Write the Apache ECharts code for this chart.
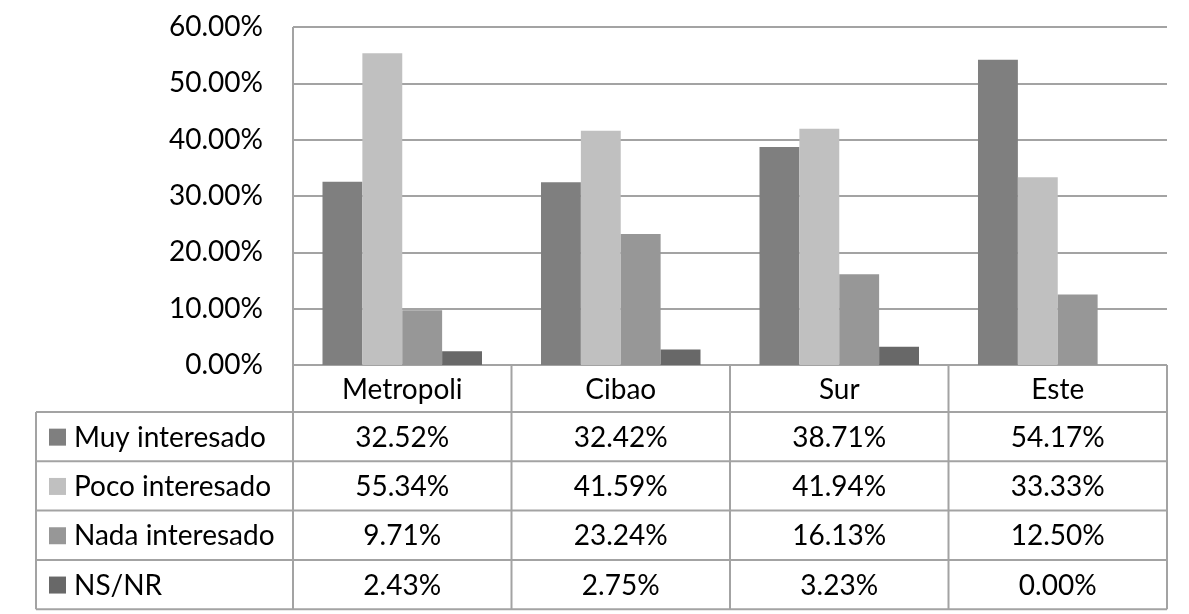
<!DOCTYPE html>
<html><head><meta charset="utf-8">
<script src="https://cdn.jsdelivr.net/npm/echarts@6/dist/echarts.min.js"></script>
<style>html,body{margin:0;padding:0;background:#fff}#c{width:1189px;height:614px}</style>
</head><body><div id="c"></div>
<script>
const categories = ['Metropoli', 'Cibao', 'Sur', 'Este'];
const seriesNames = ['Muy interesado', 'Poco interesado', 'Nada interesado', 'NS/NR'];
const muy = [32.52, 32.42, 38.71, 54.17];
const poco = [55.34, 41.59, 41.94, 33.33];
const nada = [9.71, 23.24, 16.13, 12.50];
const nsnr = [2.43, 2.75, 3.23, 0.00];
const yTicks = [0, 10, 20, 30, 40, 50, 60];

const seriesData = [muy, poco, nada, nsnr];
const colors = ['#7f7f7f', '#c0c0c0', '#979797', '#686868'];
const FONT = 'Lato';
const FS = 28;
const gridL = 293, gridR = 1167, gridT = 27, gridB = 365;
const lineC = '#a3a3a3';
const headerH = 47, rowH = 49.3, tableL = 36;

const chart = echarts.init(document.getElementById('c'), null, {renderer: 'canvas'});

function buildGraphics() {
  const g = [];
  const colW = (gridR - gridL) / categories.length;
  const tableBottom = gridB + headerH + rowH * seriesNames.length;
  for (let i = 0; i <= categories.length; i++) {
    const x = gridL + colW * i;
    g.push({type: 'line', shape: {x1: x, y1: i === 0 ? gridT : gridB, x2: x, y2: tableBottom}, style: {stroke: lineC, lineWidth: 2}, z: 10});
  }
  g.push({type: 'line', shape: {x1: tableL, y1: gridB + headerH, x2: tableL, y2: tableBottom}, style: {stroke: lineC, lineWidth: 2}, z: 10});
  for (let r = 0; r <= seriesNames.length; r++) {
    const y = gridB + headerH + rowH * r;
    g.push({type: 'line', shape: {x1: tableL, y1: y, x2: gridR, y2: y}, style: {stroke: lineC, lineWidth: 2}, z: 10});
  }
  categories.forEach((c, i) => {
    g.push({type: 'text', x: gridL + colW * (i + 0.5), y: gridB + headerH / 2 + 1,
      style: {text: c, font: FS + 'px ' + FONT, fill: '#000', align: 'center', verticalAlign: 'middle'}, z: 11});
  });
  seriesNames.forEach((name, r) => {
    const yc = gridB + headerH + rowH * (r + 0.5) + 1;
    g.push({type: 'rect', shape: {x: 49, y: yc - 9, width: 17, height: 17}, style: {fill: colors[r]}, z: 11});
    g.push({type: 'text', x: 74, y: yc, style: {text: name, font: FS + 'px ' + FONT, fill: '#000', align: 'left', verticalAlign: 'middle'}, z: 11});
    seriesData[r].forEach((v, i) => {
      g.push({type: 'text', x: gridL + colW * (i + 0.5), y: yc,
        style: {text: v.toFixed(2) + '%', font: FS + 'px ' + FONT, fill: '#000', align: 'center', verticalAlign: 'middle'}, z: 11});
    });
  });
  return g;
}

chart.setOption({
  animation: false,
  backgroundColor: '#fff',
  grid: {left: gridL, right: 1189 - gridR, top: gridT, bottom: 614 - gridB, containLabel: false},
  xAxis: {
    type: 'category', data: categories,
    axisLine: {show: false}, axisTick: {show: false}, axisLabel: {show: false}, splitLine: {show: false}
  },
  yAxis: {
    type: 'value', min: yTicks[0], max: yTicks[yTicks.length - 1], interval: 10,
    axisLine: {show: false}, axisTick: {show: false},
    axisLabel: {formatter: v => v.toFixed(2) + '%', fontFamily: FONT, fontSize: FS, color: '#000', margin: 30},
    splitLine: {show: true, lineStyle: {color: lineC, width: 2}}
  },
  series: seriesNames.map((n, i) => ({
    name: n, type: 'bar', data: seriesData[i], barGap: '0%', barCategoryGap: '27%',
    itemStyle: {color: colors[i]}
  })),
  graphic: buildGraphics()
});
</script></body></html>
